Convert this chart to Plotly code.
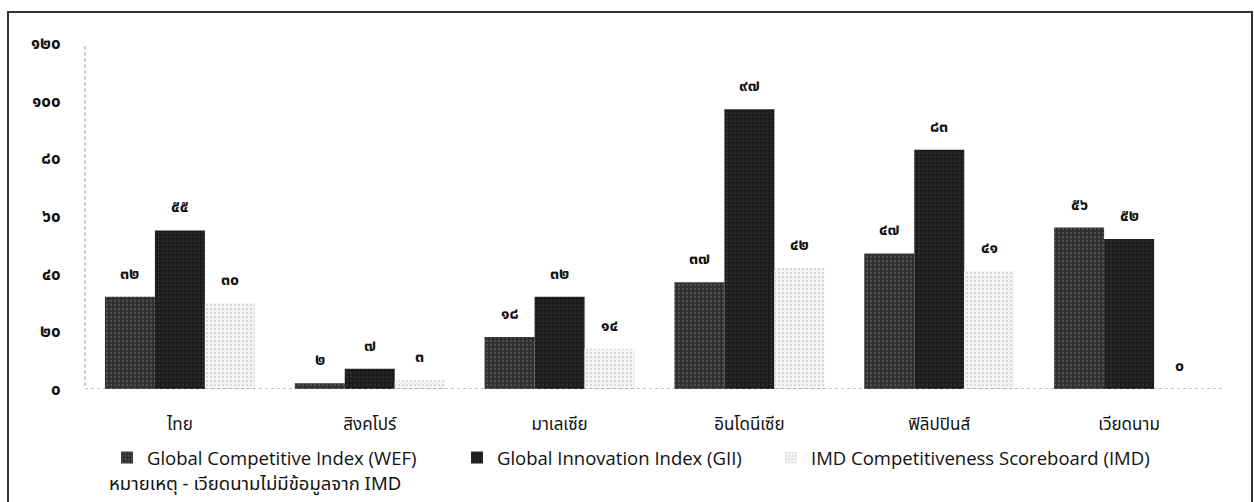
import plotly.graph_objects as go

categories = ["ไทย", "สิงคโปร์", "มาเลเซีย", "อินโดนีเซีย", "ฟิลิปปินส์", "เวียดนาม"]
series_names = ["Global Competitive Index (WEF)", "Global Innovation Index (GII)",
                "IMD Competitiveness Scoreboard (IMD)"]
wef = [32, 2, 18, 37, 47, 56]
gii = [55, 7, 32, 97, 83, 52]
imd = [30, 3, 14, 42, 41, 0]
y_ticks = [0, 20, 40, 60, 80, 100, 120]
note_text = "หมายเหตุ - เวียดนามไม่มีข้อมูลจาก IMD"

THAI_DIGITS = str.maketrans("0123456789", "๐๑๒๓๔๕๖๗๘๙")


def thai(n):
    return str(n).translate(THAI_DIGITS)


THAI_FONT = "Noto Sans Thai, Noto Sans Thai UI, Noto Sans, DejaVu Sans, sans-serif"
LATIN_FONT = "Open Sans, Noto Sans, sans-serif"

W, H = 1254, 502
L, R, T, B = 85, 30, 43, 113
pw, ph = W - L - R, H - T - B


def px_x(x):
    return (x - L) / pw


def px_y(y):
    return (H - B - y) / ph


styles = [
    dict(color="#303030", fg="#707070", solidity=0.25),
    dict(color="#1c1c1c", fg="#404040", solidity=0.25),
    dict(color="#f4f4f4", fg="#a8a8a8", solidity=0.2),
]
legend_ids = ["legend", "legend2", "legend3"]
legend_px = [107, 457, 771]

fig = go.Figure()
for name, vals, st, lid in zip(series_names, [wef, gii, imd], styles, legend_ids):
    fig.add_trace(go.Bar(
        x=categories, y=vals, name=name, legend=lid,
        marker=dict(color=st["color"], line=dict(width=0),
                    pattern=dict(shape=".", fgcolor=st["fg"], size=4,
                                 solidity=st["solidity"])),
        hoverinfo="skip",
    ))

# data labels above bars
offsets = [-50, 0, 50]
for vals, dx in zip([wef, gii, imd], offsets):
    for c, v in zip(categories, vals):
        fig.add_annotation(x=c, y=v, xref="x", yref="y", text="<b>" + thai(v) + "</b>",
                           showarrow=False, xshift=dx, yshift=23,
                           font=dict(family=THAI_FONT, size=16, color="#111"))

# dotted y axis line and baseline
fig.add_shape(type="line", xref="paper", yref="paper", x0=0, x1=0, y0=0.01, y1=0.99,
              line=dict(color="#888", width=1, dash="dot"))
fig.add_shape(type="line", xref="paper", yref="y", x0=0, x1=1, y0=0, y1=0,
              line=dict(color="#888", width=1, dash="dot"))
# frame
fig.add_shape(type="rect", xref="paper", yref="paper",
              x0=px_x(8), x1=px_x(1252), y0=px_y(506), y1=px_y(12),
              line=dict(color="#333", width=2))

fig.add_annotation(x=px_x(107), y=px_y(484), xref="paper", yref="paper",
                   xanchor="left", yanchor="middle", showarrow=False,
                   text=note_text, font=dict(family=THAI_FONT, size=18.5, color="#111"))

legend_common = dict(orientation="h", xref="container", yref="container",
                     y=1 - 458 / H, yanchor="middle", xanchor="left", itemwidth=30,
                     font=dict(family=LATIN_FONT, size=18.5, color="#111"),
                     bgcolor="rgba(0,0,0,0)")

fig.update_layout(
    width=W, height=H, autosize=False,
    margin=dict(l=L, r=R, t=T, b=B, pad=0),
    paper_bgcolor="white", plot_bgcolor="white",
    barmode="group", bargap=0.21, bargroupgap=0,
    showlegend=True,
    legend=dict(legend_common, x=legend_px[0] / W),
    legend2=dict(legend_common, x=legend_px[1] / W),
    legend3=dict(legend_common, x=legend_px[2] / W),
    xaxis=dict(showgrid=False, zeroline=False, showline=False, automargin=False,
               ticks="outside", ticklen=20, tickcolor="rgba(0,0,0,0)",
               tickfont=dict(family=THAI_FONT, size=17, color="#111")),
    yaxis=dict(range=[0, 120], showgrid=False, zeroline=False, showline=False,
               automargin=False,
               tickvals=y_ticks, ticktext=["<b>" + thai(t) + "</b>" for t in y_ticks],
               ticks="outside", ticklen=20, tickcolor="rgba(0,0,0,0)",
               tickfont=dict(family=THAI_FONT, size=17, color="#111")),
)

fig.write_html("out.html", config={"displayModeBar": False},
               post_script="document.body.style.margin='0';"
               "document.body.style.overflow='hidden';")
